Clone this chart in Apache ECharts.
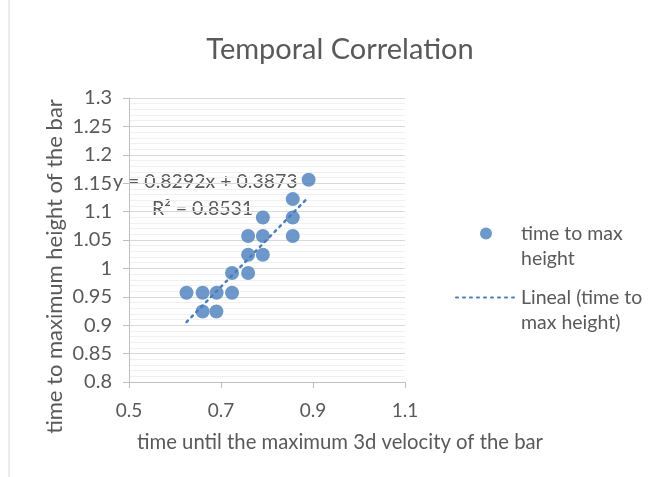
<!DOCTYPE html>
<html><head><meta charset="utf-8">
<script src="https://cdn.jsdelivr.net/npm/echarts@6/dist/echarts.min.js"></script>
<style>html,body{margin:0;padding:0;background:#fff}#c{width:654px;height:477px}</style>
</head><body><div id="c"></div>
<script>
const xValues = [0.625, 0.66, 0.6905, 0.724, 0.66, 0.69, 0.724, 0.759, 0.759, 0.759, 0.791, 0.791, 0.791, 0.856, 0.856, 0.856, 0.8905];
const yValues = [0.957, 0.957, 0.957, 0.957, 0.924, 0.924, 0.992, 0.992, 1.024, 1.057, 1.057, 1.024, 1.0895, 1.122, 1.0895, 1.057, 1.156];
const trendX = [0.625, 0.8905];
const trendY = [0.9056, 1.1257];
const xTicks = [0.5, 0.7, 0.9, 1.1];
const yTicks = [0.8, 0.85, 0.9, 0.95, 1, 1.05, 1.1, 1.15, 1.2, 1.25, 1.3];
const seriesName = 'time to max height';
const trendName = 'Lineal (time to max height)';
const eqText = 'y = 0.8292x + 0.3873';
const r2Text = 'R² = 0.8531';

const FONT = 'Lato';
const TXT = '#595959';
const BLUE = '#4a7ebb';
const chart = echarts.init(document.getElementById('c'));
chart.setOption({
  animation: false,
  textStyle: {fontFamily: FONT},
  title: {text: 'Temporal Correlation', left: 335, top: 30, textAlign: 'center',
    textStyle: {fontFamily: FONT, fontSize: 29, fontWeight: 'normal', color: TXT}},
  grid: {left: 129, right: 249, top: 98, bottom: 95},
  legend: {
    orient: 'vertical', left: 450, top: 191, itemGap: -11, itemWidth: 60, itemHeight: 12,
    textStyle: {fontFamily: FONT, fontSize: 19.5, color: TXT, lineHeight: 25},
    formatter: n => n === seriesName ? '\ntime to max\nheight' : '\nLineal (time to\nmax height)',
    data: [
      {name: seriesName, icon: 'circle'},
      {name: trendName, itemStyle: {opacity: 0}}
    ]
  },
  xAxis: {
    type: 'value', min: 0.5, max: 1.1, interval: 0.2,
    name: 'time until the maximum 3d velocity of the bar', nameLocation: 'middle', nameGap: 50,
    nameTextStyle: {fontFamily: FONT, fontSize: 20.3, color: TXT, padding: [0, 0, 0, 146]},
    axisLine: {lineStyle: {color: '#bfbfbf'}},
    axisTick: {show: true, length: 6, lineStyle: {color: '#bfbfbf'}},
    axisLabel: {color: TXT, fontSize: 19, margin: 19, formatter: v => xTicks.includes(+v.toFixed(2)) ? String(+v.toFixed(2)) : ''},
    splitLine: {show: false}
  },
  yAxis: {
    type: 'value', min: 0.8, max: 1.3, interval: 0.05,
    name: 'time to maximum height of the bar', nameLocation: 'middle', nameGap: 63, nameRotate: 90,
    nameTextStyle: {fontFamily: FONT, fontSize: 22, color: TXT, padding: [0, 53, 0, 0]},
    axisLine: {show: true, lineStyle: {color: '#bfbfbf'}},
    axisTick: {show: true, length: 6, lineStyle: {color: '#bfbfbf'}},
    axisLabel: {color: TXT, fontSize: 20, margin: 17, formatter: v => { const r = +v.toFixed(2); return yTicks.includes(r) ? String(r) : ''; }},
    splitLine: {show: true, lineStyle: {color: '#d9d9d9'}},
    minorTick: {show: false, splitNumber: 5},
    minorSplitLine: {show: true, lineStyle: {color: '#f0f0f0'}}
  },
  series: [
    {name: seriesName, type: 'scatter', symbol: 'circle', symbolSize: 14,
     itemStyle: {color: BLUE}, data: xValues.map((x, i) => [x, yValues[i]]), z: 3},
    {name: trendName, type: 'line', showSymbol: false, symbol: 'none',
     lineStyle: {color: BLUE, width: 2.5, type: [2, 5], cap: 'round'},
     itemStyle: {color: BLUE},
     data: trendX.map((x, i) => [x, trendY[i]]), z: 2}
  ],
  graphic: [
    {type: 'line', shape: {x1: 9, y1: 0, x2: 9, y2: 477}, style: {stroke: '#d9d9d9', lineWidth: 1}},
    {type: 'text', left: 113, top: 172, style: {text: eqText, fontFamily: FONT, fontSize: 19.5, fill: TXT}},
    {type: 'text', left: 152, top: 199, style: {text: r2Text, fontFamily: FONT, fontSize: 19.5, fill: TXT}}
  ]
});
</script></body></html>
